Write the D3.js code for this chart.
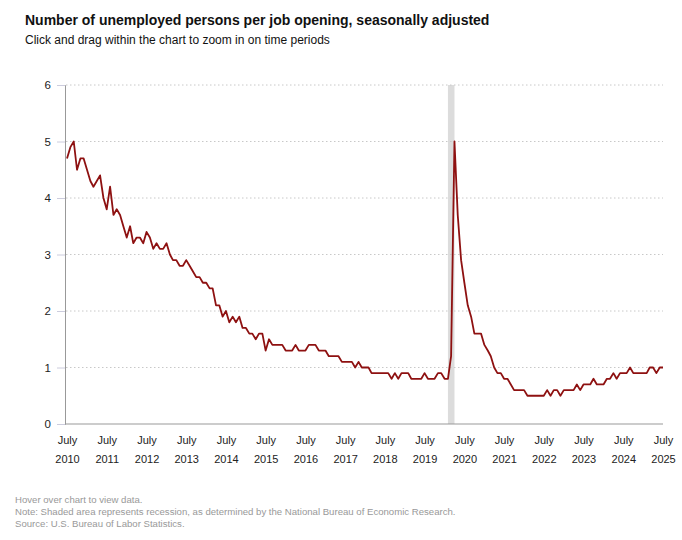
<!DOCTYPE html>
<html>
<head>
<meta charset="utf-8">
<script src="https://cdn.jsdelivr.net/npm/d3@7"></script>
<style>
  html, body { margin: 0; padding: 0; background: #fff; }
  svg { display: block; font-family: "Liberation Sans", Arial, sans-serif; }
</style>
</head>
<body>
<svg id="chart" width="682" height="540"></svg>
<script>
// ---- data ----
const title = "Number of unemployed persons per job opening, seasonally adjusted";
const subtitle = "Click and drag within the chart to zoom in on time periods";
const footnotes = [
  "Hover over chart to view data.",
  "Note: Shaded area represents recession, as determined by the National Bureau of Economic Research.",
  "Source: U.S. Bureau of Labor Statistics."
];
const startMonth = "2010-07";   // first monthly observation
const values = [
  4.7,4.9,5.0,4.5,4.7,4.7,4.5,4.3,4.2,4.3,4.4,4.0,
  3.8,4.2,3.7,3.8,3.7,3.5,3.3,3.5,3.2,3.3,3.3,3.2,
  3.4,3.3,3.1,3.2,3.1,3.1,3.2,3.0,2.9,2.9,2.8,2.8,
  2.9,2.8,2.7,2.6,2.6,2.5,2.5,2.4,2.4,2.1,2.1,1.9,
  2.0,1.8,1.9,1.8,1.9,1.7,1.7,1.6,1.6,1.5,1.6,1.6,
  1.3,1.5,1.4,1.4,1.4,1.4,1.3,1.3,1.3,1.4,1.3,1.3,
  1.3,1.4,1.4,1.4,1.3,1.3,1.3,1.2,1.2,1.2,1.2,1.1,
  1.1,1.1,1.1,1.0,1.1,1.0,1.0,1.0,0.9,0.9,0.9,0.9,
  0.9,0.9,0.8,0.9,0.8,0.9,0.9,0.9,0.8,0.8,0.8,0.8,
  0.9,0.8,0.8,0.8,0.9,0.9,0.8,0.8,1.2,5.0,3.7,2.9,
  2.5,2.1,1.9,1.6,1.6,1.6,1.4,1.3,1.2,1.0,0.9,0.9,
  0.8,0.8,0.7,0.6,0.6,0.6,0.6,0.5,0.5,0.5,0.5,0.5,
  0.5,0.6,0.5,0.6,0.6,0.5,0.6,0.6,0.6,0.6,0.7,0.6,
  0.7,0.7,0.7,0.8,0.7,0.7,0.7,0.8,0.8,0.9,0.8,0.9,
  0.9,0.9,1.0,0.9,0.9,0.9,0.9,0.9,1.0,1.0,0.9,1.0,
  1.0
];
const tickYears = [2010,2011,2012,2013,2014,2015,2016,2017,2018,2019,2020,2021,2022,2023,2024,2025];
const tickMonthLabel = "July";
const yTicks = [0,1,2,3,4,5,6];
const recession = { start: "2020-02", end: "2020-04" };

// ---- build ----
const parse = d3.timeParse("%Y-%m");
const t0 = parse(startMonth);
const series = values.map((v, i) => ({ date: d3.timeMonth.offset(t0, i), value: v }));

const svg = d3.select("#chart");
const plotLeft = 65, plotRight = 663, plotTop = 85, plotBottom = 424;

const x = d3.scaleTime()
  .domain([parse("2010-07"), parse("2025-07")])
  .range([67, 663]);
const y = d3.scaleLinear().domain([0, 6]).range([plotBottom, plotTop]);

// title
svg.append("text").attr("x", 25).attr("y", 25)
  .attr("font-size", 14).attr("font-weight", "bold").attr("fill", "#111")
  .text(title);
svg.append("text").attr("x", 25).attr("y", 44)
  .attr("font-size", 12).attr("fill", "#111")
  .text(subtitle);

// recession shading
svg.append("rect")
  .attr("x", x(parse(recession.start)))
  .attr("y", plotTop)
  .attr("width", x(parse(recession.end)) - x(parse(recession.start)))
  .attr("height", plotBottom - plotTop)
  .attr("fill", "#dcdcdc");

// grid lines
svg.append("g").selectAll("line").data(yTicks.filter(d => d > 0)).join("line")
  .attr("x1", plotLeft + 1).attr("x2", plotRight)
  .attr("y1", d => y(d)).attr("y2", d => y(d))
  .attr("stroke", "#c8c8c8").attr("stroke-width", 1)
  .attr("stroke-dasharray", "1.5,2.5");

// y axis
const yAxis = d3.axisLeft(y).tickValues(yTicks).tickSize(8).tickPadding(6).tickFormat(d3.format("d"));
const gy = svg.append("g").attr("transform", `translate(${plotLeft},0)`).call(yAxis);
gy.select(".domain").attr("stroke", "#999");
gy.selectAll(".tick line").attr("stroke", "#ccd");
gy.selectAll(".tick text").attr("font-size", 11.5).attr("fill", "#222")
  .attr("font-family", "'Liberation Sans', Arial, sans-serif");

// x axis baseline
svg.append("line").attr("x1", plotLeft).attr("x2", plotRight)
  .attr("y1", plotBottom).attr("y2", plotBottom)
  .attr("stroke", "#999").attr("stroke-width", 1);

// x axis labels
const xAxis = d3.axisBottom(x)
  .tickValues(tickYears.map(yr => parse(yr + "-07")))
  .tickSize(0).tickPadding(0).tickFormat(() => "");
const gx = svg.append("g").attr("transform", `translate(0,${plotBottom})`).call(xAxis);
gx.select(".domain").remove();
gx.selectAll(".tick").each(function(d) {
  const g = d3.select(this);
  g.append("text").attr("y", 20).attr("text-anchor", "middle")
    .attr("font-size", 11).attr("fill", "#222")
    .attr("font-family", "'Liberation Sans', Arial, sans-serif").text(tickMonthLabel);
  g.append("text").attr("y", 39).attr("text-anchor", "middle")
    .attr("font-size", 11).attr("fill", "#222")
    .attr("font-family", "'Liberation Sans', Arial, sans-serif").text(d.getFullYear());
});

// line
const line = d3.line().x(d => x(d.date)).y(d => y(d.value));
svg.append("path").datum(series)
  .attr("d", line)
  .attr("fill", "none")
  .attr("stroke", "#8e1111")
  .attr("stroke-width", 1.8)
  .attr("stroke-linejoin", "round");

// footnotes
svg.append("g").selectAll("text").data(footnotes).join("text")
  .attr("x", 15).attr("y", (d, i) => 503 + i * 12)
  .attr("font-size", 9.6).attr("fill", "#999")
  .text(d => d);
</script>
</body>
</html>
